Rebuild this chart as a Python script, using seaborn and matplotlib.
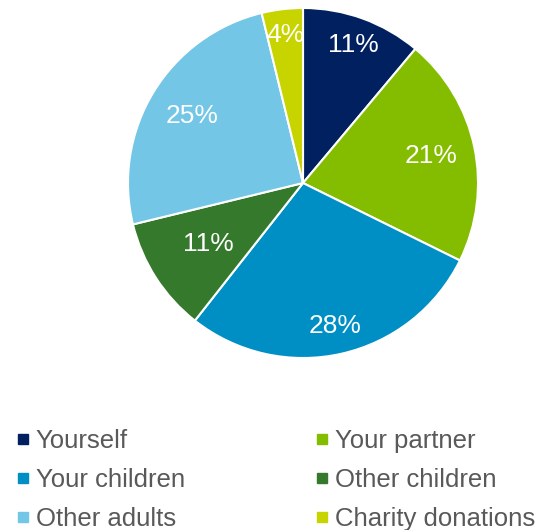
"""Pie chart: share of spending by recipient."""

import matplotlib

matplotlib.use("Agg")
import matplotlib.pyplot as plt
from matplotlib.lines import Line2D
import seaborn as sns

categories = ["Yourself", "Your partner", "Your children", "Other children", "Other adults", "Charity donations"]
shares = [11.1, 21.2, 28.3, 10.6, 25.0, 3.8]

colors = ["#002060", "#84BD00", "#008FC5", "#357A2C", "#73C6E6", "#C8D400"]
label_dist = [0.84, 0.75, 0.84, 0.64, 0.74, 0.85]

sns.set_style("white")
plt.rcParams["font.family"] = ["Liberation Sans", "DejaVu Sans"]

fig = plt.figure(figsize=(5.44, 5.30), dpi=100)
ax = fig.add_axes([0.2353, 0.3245, 0.6434, 0.6604])

wedges, texts, autotexts = ax.pie(
    shares,
    colors=colors,
    startangle=90,
    counterclock=False,
    autopct="%.0f%%",
    pctdistance=0.78,
    wedgeprops=dict(edgecolor="white", linewidth=1.5),
    textprops=dict(color="white", fontsize=19),
)
# nudge each percentage label to its own radius
for t, d in zip(autotexts, label_dist):
    x, y = t.get_position()
    r = (x ** 2 + y ** 2) ** 0.5
    t.set_position((x / r * d, y / r * d))
ax.set_xlim(-1, 1)
ax.set_ylim(-1, 1)
ax.set_aspect("equal")

order = [0, 2, 4, 1, 3, 5]
handles = [
    Line2D([], [], marker="s", linestyle="none", markersize=7.5, markerfacecolor=colors[i],
           markeredgecolor=colors[i], label=categories[i])
    for i in order
]
fig.legend(
    handles=handles,
    ncol=2,
    loc="lower left",
    bbox_to_anchor=(-0.012, -0.046),
    frameon=False,
    fontsize=18.5,
    labelcolor="#595959",
    handlelength=0.5,
    handletextpad=0.25,
    columnspacing=5.1,
    labelspacing=0.58,
)

fig.savefig("out.png", dpi=100)
